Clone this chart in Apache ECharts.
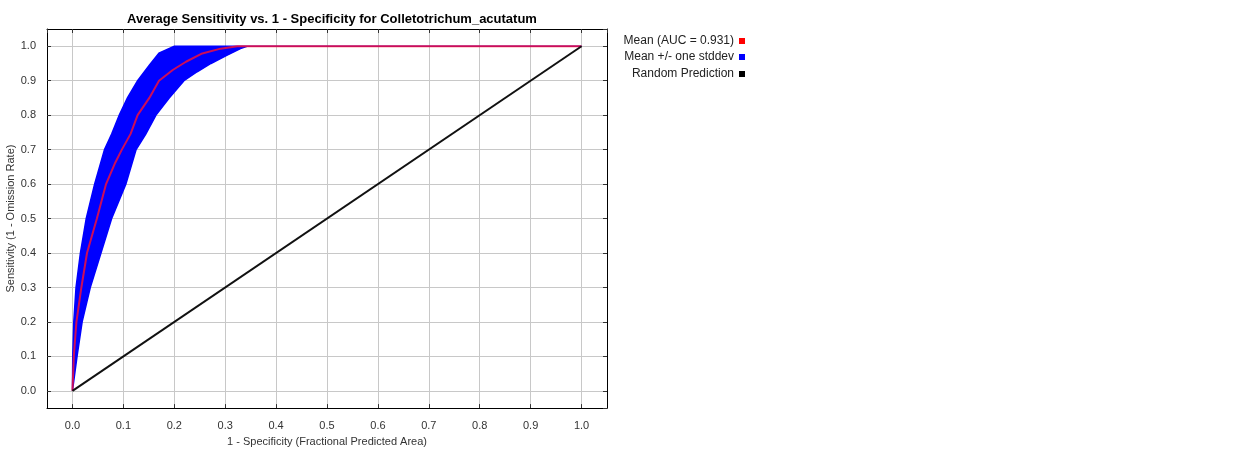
<!DOCTYPE html>
<html>
<head>
<meta charset="utf-8">
<script src="https://cdn.jsdelivr.net/npm/echarts@6/dist/echarts.min.js"></script>
<style>
  html, body { margin: 0; padding: 0; background: #fff; }
  #main { width: 1238px; height: 452px; }
</style>
</head>
<body>
<div id="main"></div>
<script>
// mean ROC curve (1 - specificity, sensitivity)
var meanX = [0, 0.0026, 0.0078, 0.0175, 0.0286, 0.048, 0.066, 0.084, 0.097, 0.114, 0.128, 0.151, 0.170, 0.197, 0.223, 0.255, 0.291, 0.324, 1.0];
var meanY = [0, 0.10, 0.20, 0.30, 0.40, 0.50, 0.60, 0.662, 0.70, 0.745, 0.80, 0.85, 0.90, 0.931, 0.955, 0.979, 0.993, 1.0, 1.0];
// upper edge of the +/- one stddev band
var upperX = [0, 0.0006, 0.0026, 0.007, 0.0156, 0.027, 0.0435, 0.063, 0.077, 0.092, 0.108, 0.128, 0.151, 0.170, 0.200, 1.0];
var upperY = [0, 0.10, 0.20, 0.30, 0.40, 0.50, 0.60, 0.70, 0.745, 0.80, 0.85, 0.90, 0.945, 0.98, 1.0, 1.0];
// lower edge of the band
var lowerX = [0, 0.009, 0.019, 0.035, 0.056, 0.077, 0.105, 0.125, 0.144, 0.164, 0.190, 0.219, 0.245, 0.272, 0.304, 0.330, 0.343, 1.0];
var lowerY = [0, 0.10, 0.20, 0.30, 0.40, 0.50, 0.60, 0.70, 0.745, 0.80, 0.85, 0.90, 0.926, 0.95, 0.974, 0.993, 1.0, 1.0];
// random prediction
var randX = [0, 1];
var randY = [0, 1];

var meanData = meanX.map(function (x, i) { return [x, meanY[i]]; });
var bandData = upperX.map(function (x, i) { return [x, upperY[i]]; });
for (var i = lowerX.length - 1; i >= 0; i--) {
    bandData.push([lowerX[i], lowerY[i]]);
}
var randData = randX.map(function (x, i) { return [x, randY[i]]; });

var fontFam = '"Liberation Sans", Arial, sans-serif';
var fmt = function (v) { return v.toFixed(1); };

function valAxis(pos, show) {
    return {
        type: 'value',
        position: pos,
        min: -0.05,
        max: 1.05,
        splitNumber: 11,
        axisLine: { show: true, onZero: false, lineStyle: { color: '#000', width: 1 } },
        axisTick: { show: true, inside: true, length: 4, lineStyle: { color: '#333' } },
        axisLabel: {
            show: show, formatter: fmt, showMinLabel: false, showMaxLabel: false,
            color: '#333', fontSize: 11, fontFamily: fontFam, margin: 11
        },
        splitLine: { show: show, lineStyle: { color: '#c8c8c8', width: 1 } }
    };
}

var xMain = valAxis('bottom', true);
xMain.name = '1 - Specificity (Fractional Predicted Area)';
xMain.nameLocation = 'middle';
xMain.nameGap = 26;
xMain.nameTextStyle = { color: '#333', fontSize: 11, fontFamily: fontFam };
xMain.axisLabel.margin = 12;
var yMain = valAxis('left', true);
yMain.name = 'Sensitivity (1 - Omission Rate)';
yMain.nameLocation = 'middle';
yMain.nameGap = 27;
yMain.nameTextStyle = { color: '#333', fontSize: 11, fontFamily: fontFam };

var legendBase = {
    orient: 'vertical', right: 492, align: 'right', itemWidth: 6, itemHeight: 6,
    itemGap: 6, icon: 'rect',
    textStyle: { color: '#222', fontSize: 12, fontFamily: fontFam }
};
function legendAt(top, name) {
    var l = Object.assign({}, legendBase);
    l.top = top;
    l.right = 488;
    l.data = [name];
    return l;
}

var option = {
    animation: false,
    backgroundColor: '#fff',
    title: {
        text: 'Average Sensitivity vs. 1 - Specificity for Colletotrichum_acutatum',
        left: 327, top: 8, textAlign: 'center',
        textStyle: { color: '#000', fontSize: 13, fontWeight: 'bold', fontFamily: fontFam }
    },
    legend: [
        legendAt(30, 'Mean (AUC = 0.931)'),
        legendAt(46, 'Mean +/- one stddev'),
        legendAt(63, 'Random Prediction')
    ],
    grid: { left: 47, top: 29, right: 631, bottom: 38, containLabel: false },
    xAxis: [xMain, valAxis('top', false)],
    yAxis: [yMain, valAxis('right', false)],
    series: [
        {
            name: 'Mean +/- one stddev',
            type: 'custom',
            itemStyle: { color: '#0000ff' },
            clip: true,
            z: 2,
            renderItem: function (params, api) {
                if (params.dataIndex !== 0) return null;
                var pts = bandData.map(function (p) { return api.coord(p); });
                return {
                    type: 'polygon',
                    shape: { points: pts },
                    style: { fill: '#0000ff', stroke: '#0000ff', lineWidth: 1.5 }
                };
            },
            data: bandData
        },
        {
            name: 'Mean (AUC = 0.931)',
            type: 'line',
            data: meanData,
            showSymbol: false,
            smooth: false,
            z: 3,
            itemStyle: { color: '#ff0000' },
            lineStyle: { color: '#ff1030', width: 2, opacity: 0.8 }
        },
        {
            name: 'Random Prediction',
            type: 'line',
            data: randData,
            showSymbol: false,
            z: 4,
            itemStyle: { color: '#000' },
            lineStyle: { color: '#111', width: 2 }
        }
    ]
};

var myChart = echarts.init(document.getElementById('main'));
myChart.setOption(option);
</script>
</body>
</html>
